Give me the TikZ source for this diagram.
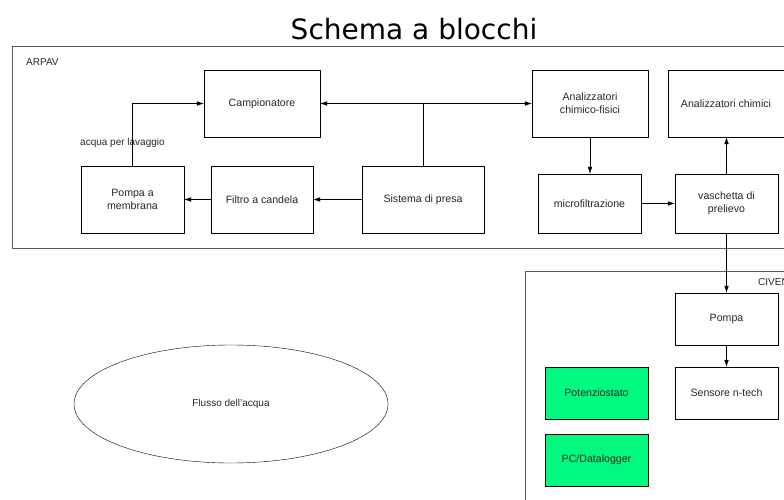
\documentclass[tikz,border=0pt]{standalone}
\usepackage{fontspec}
\setmainfont{Liberation Sans}
\newfontfamily\titlefont{DejaVu Sans}
\usepackage{xcolor}
\usepackage{tikz}
\usetikzlibrary{arrows.meta, shapes.geometric}

\definecolor{boxgreen}{RGB}{0,250,128}

\begin{document}
\begin{tikzpicture}[x=1pt, y=-1pt, >={Latex[length=7pt, width=4.5pt]}]
            \tikzstyle{block} = [rectangle, draw=black, align=center, text=black!85, font=\fontsize{10.6}{13}\selectfont, inner sep=2pt];
            \tikzstyle{frame} = [draw=black!65, line width=1pt];
            \tikzstyle{tag} = [font=\fontsize{10}{12}\selectfont, text=black!85, inner sep=0pt];
            \useasboundingbox (0,0) rectangle (784,500);

            \node [font=\titlefont\fontsize{28}{30}\selectfont, inner sep=0pt] (title) at (414,29) {Schema a blocchi};

            % ARPAV
            \draw [frame] (12,47) rectangle (792,248);
            \node [tag, anchor=west] (arpav) at (26,62) {ARPAV};

            \node [block, minimum width=116, minimum height=67] (camp) at (262,103.5) {Campionatore};
            \node [block, minimum width=103, minimum height=67] (membrana) at (132.5,199.5) {Pompa a\\membrana};
            \node [block, minimum width=102, minimum height=67] (filtro) at (262,199.5) {Filtro a candela};
            \node [block, minimum width=122, minimum height=67] (presa) at (423,199.5) {Sistema di presa};
            \node [block, minimum width=116, minimum height=67] (chf) at (590,103.5) {Analizzatori\\chimico-fisici};
            \node [block, minimum width=116, minimum height=67] (chim) at (726,103.5) {Analizzatori chimici};
            \node [block, minimum width=103, minimum height=59] (micro) at (589.5,203.5) {microfiltrazione};
            \node [block, minimum width=103, minimum height=59] (vasch) at (726.5,203.5) {vaschetta di\\prelievo};
            \node [tag, anchor=west] (lavaggio) at (80,143) {acqua per lavaggio};

            % CIVEN
            \draw [frame] (525,271) rectangle (792,508);
            \node [tag, anchor=west] (civen) at (758,282) {CIVEN};

            \node [block, minimum width=103, minimum height=52] (pompa) at (726.5,319) {Pompa};
            \node [block, minimum width=103, minimum height=52] (sensore) at (726.5,393) {Sensore n-tech};
            \node [block, fill=boxgreen, minimum width=103, minimum height=52] (potenz) at (596.5,393) {Potenziostato};
            \node [block, fill=boxgreen, minimum width=103, minimum height=52] (pc) at (596.5,460) {PC/Datalogger};

            \node [ellipse, draw=black, minimum width=314, minimum height=118, text=black!85, font=\fontsize{10}{12}\selectfont] (flusso) at (231,404) {Flusso dell'acqua};

            \draw [<->] (camp.east) to (chf.west);
            \draw (presa.north) to (presa.north |- camp.east);
            \draw [->] (membrana.north) |- (camp.west);
            \draw [->] (chf.south) to (chf.south |- micro.north);
            \draw [->] (vasch.north) to (vasch.north |- chim.south);
            \foreach \a/\b in {presa/filtro, filtro/membrana, micro/vasch, vasch/pompa, pompa/sensore}
                \draw [->] (\a) to (\b);
        \end{tikzpicture}
\end{document}
